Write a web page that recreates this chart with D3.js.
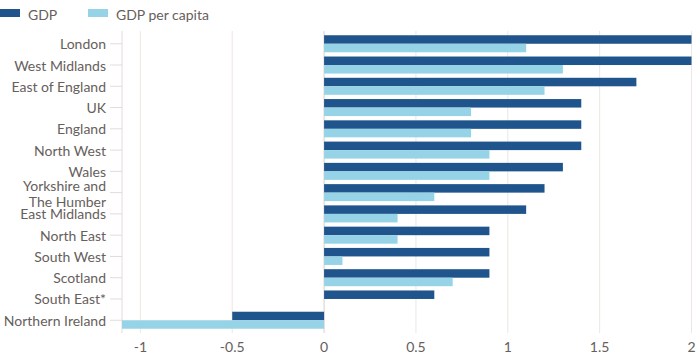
<!DOCTYPE html>
<html><head><meta charset="utf-8">
<script src="https://cdn.jsdelivr.net/npm/d3@7"></script>
<style>body{margin:0;background:#fff;} text{font-family:"Lato","Open Sans",sans-serif;}</style>
</head><body>
<svg id="c" width="700" height="358"></svg>
<script>
const categories = ["London","West Midlands","East of England","UK","England","North West","Wales","Yorkshire and|The Humber","East Midlands","North East","South West","Scotland","South East*","Northern Ireland"];
const gdp = [2.0,2.0,1.7,1.4,1.4,1.4,1.3,1.2,1.1,0.9,0.9,0.9,0.6,-0.5];
const gdpPerCapita = [1.1,1.3,1.2,0.8,0.8,0.9,0.9,0.6,0.4,0.4,0.1,0.7,0,-1.1];
const xTicks = [-1,-0.5,0,0.5,1,1.5,2];
const seriesNames = ["GDP","GDP per capita"];
const colors = ["#1f558c","#96d3e6"];

(function(){
const svg = d3.select("#c");
const pl = 122, pr = 691.5, pt = 31, pb = 333;
const x = d3.scaleLinear().domain([-1.1,2]).range([pl,pr]);
const y = d3.scaleBand().domain(categories).range([pt,pb]).paddingInner(0.2).paddingOuter(0.2);
const textCol = "#66605c";
const fs = 14;

svg.append("g").selectAll("line").data(xTicks).join("line")
  .attr("x1",d=>x(d)).attr("x2",d=>x(d)).attr("y1",pt).attr("y2",pb)
  .attr("stroke",d=>d===0?"#d9cfc6":"#ece7e2").attr("stroke-width",1);

svg.append("line").attr("x1",pl).attr("x2",pl).attr("y1",pt).attr("y2",pb).attr("stroke","#e2dcd6");

const yg = svg.append("g");
categories.forEach(c=>{
  const cy = y(c)+y.bandwidth()/2;
  yg.append("line").attr("x1",110).attr("x2",pl).attr("y1",cy).attr("y2",cy).attr("stroke","#e2dcd6");
  const lines = c.split("|");
  const t = yg.append("text").attr("text-anchor","end").attr("fill",textCol).attr("font-size",fs);
  if (lines.length === 1) {
    t.append("tspan").attr("x",106).attr("y",cy + 5.5).text(lines[0]);
  } else {
    lines.forEach((l,i)=>{
      t.append("tspan").attr("x",106).attr("y",cy - 2 + i*16.5).text(l);
    });
  }
});

const half = y.bandwidth()/2;
const bars = svg.append("g");
[gdp,gdpPerCapita].forEach((vals,si)=>{
  bars.selectAll(null).data(categories).join("rect")
    .attr("x",(c,i)=>Math.min(x(0),x(vals[i])))
    .attr("width",(c,i)=>Math.abs(x(vals[i])-x(0)))
    .attr("y",c=>y(c)+si*half)
    .attr("height",half)
    .attr("fill",colors[si]);
});

svg.append("g").selectAll("text").data(xTicks).join("text")
  .attr("x",d=>x(d)).attr("y",351.5).attr("text-anchor","middle")
  .attr("fill",textCol).attr("font-size",fs).text(d=>d);

const leg = svg.append("g");
const lx = [0,88];
seriesNames.forEach((n,i)=>{
  leg.append("rect").attr("x",lx[i]).attr("y",9).attr("width",20).attr("height",8).attr("fill",colors[i]);
  leg.append("text").attr("x",lx[i]+28).attr("y",19.5).attr("fill",textCol).attr("font-size",fs).text(n);
});
})();
</script>
</body></html>
